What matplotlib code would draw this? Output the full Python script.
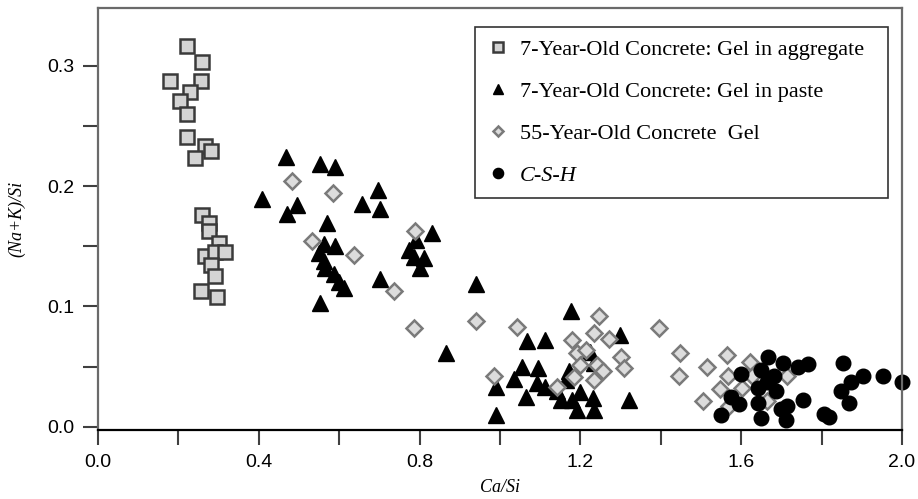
import numpy as np
import matplotlib
matplotlib.use('Agg')
import matplotlib.pyplot as plt
from matplotlib.ticker import MultipleLocator

# 7-Year-Old Concrete: Gel in aggregate
agg_x = [0.222, 0.258, 0.178, 0.255, 0.229, 0.204, 0.222, 0.222, 0.265, 0.280, 0.242,
         0.259, 0.276, 0.275, 0.302, 0.267, 0.292, 0.317, 0.280, 0.291, 0.256, 0.296]
agg_y = [0.316, 0.303, 0.287, 0.287, 0.278, 0.271, 0.260, 0.241, 0.233, 0.229, 0.223,
         0.176, 0.169, 0.163, 0.153, 0.142, 0.145, 0.145, 0.134, 0.125, 0.113, 0.108]

# 7-Year-Old Concrete: Gel in paste
paste_x = [0.467, 0.553, 0.590, 0.408, 0.495, 0.470, 0.696, 0.657, 0.701, 0.570, 0.831,
           0.561, 0.590, 0.549, 0.561, 0.565, 0.586, 0.599, 0.611, 0.553, 0.702, 0.773,
           0.790, 0.785, 0.810, 0.802, 0.939, 0.866, 0.989, 0.989, 1.177, 1.068, 1.113,
           1.298, 1.055, 1.094, 1.034, 1.093, 1.113, 1.064, 1.171, 1.163, 1.151, 1.225,
           1.234, 1.200, 1.192, 1.234, 1.232, 1.321, 1.142, 1.180]
paste_y = [0.224, 0.218, 0.216, 0.189, 0.184, 0.177, 0.197, 0.185, 0.181, 0.169, 0.161,
           0.152, 0.150, 0.144, 0.138, 0.132, 0.127, 0.120, 0.115, 0.103, 0.123, 0.147,
           0.155, 0.141, 0.140, 0.132, 0.119, 0.061, 0.033, 0.010, 0.096, 0.071, 0.072,
           0.076, 0.050, 0.049, 0.040, 0.036, 0.033, 0.025, 0.046, 0.039, 0.022, 0.062,
           0.053, 0.029, 0.014, 0.014, 0.024, 0.022, 0.030, 0.022]

# 55-Year-Old Concrete Gel
old_x = [0.482, 0.585, 0.532, 0.636, 0.737, 0.788, 0.785, 0.941, 0.986, 1.043, 1.246,
         1.234, 1.180, 1.271, 1.192, 1.213, 1.200, 1.242, 1.255, 1.300, 1.308, 1.234,
         1.184, 1.141, 1.396, 1.448, 1.445, 1.516, 1.564, 1.566, 1.547, 1.504, 1.622,
         1.603, 1.628, 1.665, 1.715, 1.570]
old_y = [0.204, 0.194, 0.154, 0.143, 0.113, 0.163, 0.082, 0.088, 0.042, 0.083, 0.092,
         0.078, 0.072, 0.073, 0.061, 0.064, 0.051, 0.051, 0.046, 0.058, 0.049, 0.039,
         0.041, 0.033, 0.082, 0.061, 0.042, 0.050, 0.060, 0.042, 0.031, 0.021, 0.054,
         0.032, 0.042, 0.021, 0.042, 0.017]

# C-S-H
csh_x = [1.667, 1.703, 1.740, 1.765, 1.599, 1.649, 1.682, 1.665, 1.641, 1.686, 1.574,
         1.595, 1.641, 1.549, 1.649, 1.699, 1.715, 1.711, 1.753, 1.806, 1.819, 1.852,
         1.873, 1.848, 1.902, 1.869, 1.952, 1.999]
csh_y = [0.058, 0.053, 0.050, 0.052, 0.044, 0.047, 0.042, 0.037, 0.032, 0.030, 0.025,
         0.019, 0.020, 0.010, 0.007, 0.015, 0.017, 0.006, 0.022, 0.011, 0.008, 0.053,
         0.037, 0.030, 0.042, 0.020, 0.042, 0.037]

fig = plt.figure(figsize=(9.18, 4.99), dpi=100)
ax = fig.add_axes([0.1068, 0.1383, 0.8758, 0.8457])

ax.plot(agg_x, agg_y, 's', ms=10, mfc='#d4d4d4', mec='#3a3a3a', mew=1.8,
        label='7-Year-Old Concrete: Gel in aggregate', clip_on=False)
ax.plot(paste_x, paste_y, '^', ms=11, mfc='black', mec='black',
        label='7-Year-Old Concrete: Gel in paste', clip_on=False)
ax.plot(old_x, old_y, 'D', ms=8, mfc='#dcdcdc', mec='#7a7a7a', mew=1.8,
        label='55-Year-Old Concrete  Gel', clip_on=False)
ax.plot(csh_x, csh_y, 'o', ms=10.5, mfc='black', mec='black',
        label='C-S-H', clip_on=False)

ax.set_xlim(0, 2.0)
ax.set_ylim(-0.0027, 0.348)
ax.xaxis.set_major_locator(MultipleLocator(0.4))
ax.xaxis.set_minor_locator(MultipleLocator(0.2))
ax.yaxis.set_major_locator(MultipleLocator(0.1))
ax.yaxis.set_minor_locator(MultipleLocator(0.05))
ax.xaxis.set_major_formatter(matplotlib.ticker.FormatStrFormatter('%.1f'))
ax.yaxis.set_major_formatter(matplotlib.ticker.FormatStrFormatter('%.1f'))
ax.tick_params(which='both', direction='out', length=11, width=1.5, color='#404040')
ax.tick_params(which='major', labelsize=14, pad=6)
for lab in ax.get_xticklabels() + ax.get_yticklabels():
    lab.set_family('Liberation Sans')

for side in ['left', 'top', 'right']:
    ax.spines[side].set_color('#6a6a6a')
    ax.spines[side].set_linewidth(1.6)
ax.spines['bottom'].set_color('black')
ax.spines['bottom'].set_linewidth(1.6)

ax.set_xlabel('Ca/Si', family='Liberation Serif', style='italic', fontsize=13, labelpad=6)
ax.set_ylabel('(Na+K)/Si', family='Liberation Serif', style='italic', fontsize=13, labelpad=16)

# legend box spans x 475-888 px, top at 27 px
leg = ax.legend(loc='upper left', bbox_to_anchor=(0.469, 0.555, 0.514, 0.400), mode='expand',
                borderaxespad=0, frameon=True, fancybox=False, edgecolor='black',
                markerscale=0.7, prop={'family': 'Liberation Serif', 'size': 16},
                labelspacing=0.97, handlelength=1.0, handletextpad=0.45, borderpad=0.55,
                numpoints=1)
leg.get_frame().set_linewidth(1.2)
leg.get_texts()[3].set_style('italic')

fig.savefig('out.png', dpi=100)
